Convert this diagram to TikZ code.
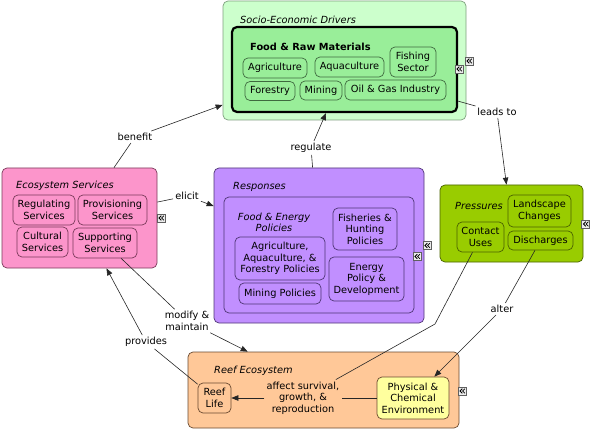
\documentclass[tikz,border=0pt]{standalone}
\usepackage{fontspec}
\setmainfont{DejaVu Sans}
\usetikzlibrary{arrows.meta}
\definecolor{socioF}{HTML}{CCFFCC}
\definecolor{socioD}{HTML}{7FA07F}
\definecolor{frmF}{HTML}{99EE99}
\definecolor{frmD}{HTML}{3F6A3F}
\definecolor{ecoF}{HTML}{FC95CB}
\definecolor{ecoD}{HTML}{7A3A5A}
\definecolor{respF}{HTML}{C18FFF}
\definecolor{respD}{HTML}{4F3575}
\definecolor{pressF}{HTML}{99CC00}
\definecolor{pressD}{HTML}{4A6200}
\definecolor{reefF}{HTML}{FFC898}
\definecolor{reefD}{HTML}{6A4A30}
\definecolor{physF}{HTML}{FFFF9E}
\begin{document}
\begin{tikzpicture}[x=1pt,y=-1pt,
  font=\fontsize{9.8}{11.5}\selectfont,
  cont/.style={draw=#1, rounded corners=5pt, line width=0.7pt, inner sep=0pt},
  leaf/.style={draw=#1, rounded corners=5pt, line width=0.7pt, inner sep=0pt, align=center},
  lbl/.style={align=center, inner sep=2pt},
  ttl/.style={font=\fontsize{9.8}{11.5}\selectfont\itshape, anchor=west, inner sep=0pt},
  conn/.style={draw=black!85, line width=0.6pt},
  arr/.style={conn, -{Triangle[length=7pt,width=5.5pt]}},
  icon/.style={draw=gray!75!black, fill=gray!15, minimum width=8pt, minimum height=8pt, inner sep=0pt, line width=0.5pt,
    path picture={\draw[line width=0.75pt, black]
      (path picture bounding box.center) +(0.3pt,2.3pt) -- +(-2.0pt,0pt) -- +(0.3pt,-2.3pt)
      (path picture bounding box.center) +(2.9pt,2.3pt) -- +(0.6pt,0pt) -- +(2.9pt,-2.3pt);}}]
\useasboundingbox (0,0) rectangle (591,430);

% Socio-Economic Drivers
\node[cont=socioD, fill=socioF, minimum width=243pt, minimum height=119pt] (socio) at (344.5,60.5) {};
\node[ttl] (sociot) at (240,20) {Socio-Economic Drivers};
\node[cont=black, line width=2.2pt, fill=frmF, minimum width=225pt, minimum height=85pt] (frm) at (344.5,69.5) {};
\node[font=\fontsize{9.8}{11.5}\selectfont\bfseries, anchor=west, inner sep=0pt] (frmt) at (250,47) {Food \& Raw Materials};
\node[leaf=frmD, fill=frmF, minimum width=64pt, minimum height=20pt] (agri) at (275,68) {Agriculture};
\node[leaf=frmD, fill=frmF, minimum width=69pt, minimum height=20pt] (aqua) at (349.5,67) {Aquaculture};
\node[leaf=frmD, fill=frmF, minimum width=46pt, minimum height=30pt] (fish) at (413,62) {Fishing\\Sector};
\node[leaf=frmD, fill=frmF, minimum width=50pt, minimum height=19pt] (forest) at (270,91) {Forestry};
\node[leaf=frmD, fill=frmF, minimum width=42pt, minimum height=19pt] (mining) at (321,90.5) {Mining};
\node[leaf=frmD, fill=frmF, minimum width=101pt, minimum height=20pt] (oil) at (395.5,90) {Oil \& Gas Industry};
\node[icon] (ic1) at (469,61) {};
\node[icon] (ic2) at (459,69) {};

% Ecosystem Services
\node[cont=ecoD, fill=ecoF, minimum width=155pt, minimum height=100pt] (eco) at (79.5,218) {};
\node[ttl] (ecot) at (16,186) {Ecosystem Services};
\node[leaf=ecoD, fill=ecoF, minimum width=62pt, minimum height=30pt] (reg) at (44,210) {Regulating\\Services};
\node[leaf=ecoD, fill=ecoF, minimum width=69pt, minimum height=30pt] (prov) at (112.5,210) {Provisioning\\Services};
\node[leaf=ecoD, fill=ecoF, minimum width=51pt, minimum height=30pt] (cult) at (42.5,242) {Cultural\\Services};
\node[leaf=ecoD, fill=ecoF, minimum width=64pt, minimum height=30pt] (supp) at (105,243) {Supporting\\Services};
\node[icon] (ic3) at (161,218) {};

% Responses
\node[cont=respD, fill=respF, minimum width=210pt, minimum height=155pt] (resp) at (319,245.5) {};
\node[ttl] (respt) at (233,187) {Responses};
\node[cont=respD, fill=respF, minimum width=190pt, minimum height=116pt] (fep) at (319,255) {};
\node[font=\fontsize{9.8}{11.5}\selectfont\itshape, align=center, inner sep=0pt] (fept) at (274,222.5) {Food \& Energy\\Policies};
\node[leaf=respD, fill=respF, minimum width=90pt, minimum height=43pt] (aafp) at (280,258.5) {Agriculture,\\Aquaculture, \&\\Forestry Policies};
\node[leaf=respD, fill=respF, minimum width=82pt, minimum height=21pt] (minp) at (280,293.5) {Mining Policies};
\node[leaf=respD, fill=respF, minimum width=64pt, minimum height=42pt] (fhp) at (365,229) {Fisheries \&\\Hunting\\Policies};
\node[leaf=respD, fill=respF, minimum width=75pt, minimum height=44pt] (epd) at (366.5,279) {Energy\\Policy \&\\Development};
\node[icon] (ic4) at (427,245.5) {};
\node[icon] (ic5) at (417,256.5) {};

% Pressures
\node[cont=pressD, fill=pressF, minimum width=143pt, minimum height=77pt] (press) at (511.5,223.5) {};
\node[ttl] (presst) at (455,206) {Pressures};
\node[leaf=pressD, fill=pressF, minimum width=63pt, minimum height=32pt] (land) at (539.5,211) {Landscape\\Changes};
\node[leaf=pressD, fill=pressF, minimum width=65pt, minimum height=19pt] (disc) at (540.5,240.5) {Discharges};
\node[leaf=pressD, fill=pressF, minimum width=47pt, minimum height=30pt] (contact) at (480.5,237) {Contact\\Uses};
\node[icon] (ic6) at (585.5,224) {};

% Reef Ecosystem
\node[cont=reefD, fill=reefF, minimum width=271pt, minimum height=76pt] (reef) at (323.5,390) {};
\node[ttl] (reeft) at (214,371) {Reef Ecosystem};
\node[leaf=reefD, fill=reefF, minimum width=33pt, minimum height=30pt] (life) at (214.5,398) {Reef\\Life};
\node[leaf=reefD, fill=physF, minimum width=72pt, minimum height=42pt] (phys) at (413,398) {Physical \&\\Chemical\\Environment};
\node[icon] (ic7) at (462,391) {};

% Linking phrases
\node[lbl] (benefit) at (135,137) {benefit};
\node[lbl] (leads) at (497,112) {leads to};
\node[lbl] (regulate) at (311,148) {regulate};
\node[lbl] (elicit) at (187,196) {elicit};
\node[lbl] (modify) at (187,321) {modify \&\\maintain};
\node[lbl] (provides) at (146,342) {provides};
\node[lbl] (alter) at (502,309) {alter};
\node[lbl] (affect) at (303,398) {affect survival,\\growth, \&\\reproduction};
\coordinate (bend) at (435,324);

% Connectors
\draw[conn] (eco) -- (benefit);
\draw[arr] (benefit) -- (socio);
\draw[conn] (frm) -- (leads);
\draw[arr] (leads) -- (press);
\draw[conn] (resp) -- (regulate);
\draw[arr] (regulate) -- (frm);
\draw[conn] (eco) -- (elicit);
\draw[arr] (elicit) -- (resp);
\draw[conn] (supp) -- (modify);
\draw[arr] (modify) -- (reef);
\draw[conn] (life) -- (provides);
\draw[arr] (provides) -- (eco);
\draw[conn] (disc) -- (alter);
\draw[arr] (alter) -- (phys);
\draw[conn] (contact) -- (bend) -- (affect);
\draw[conn] (phys) -- (affect);
\draw[arr] (affect) -- (life);
\end{tikzpicture}
\end{document}
